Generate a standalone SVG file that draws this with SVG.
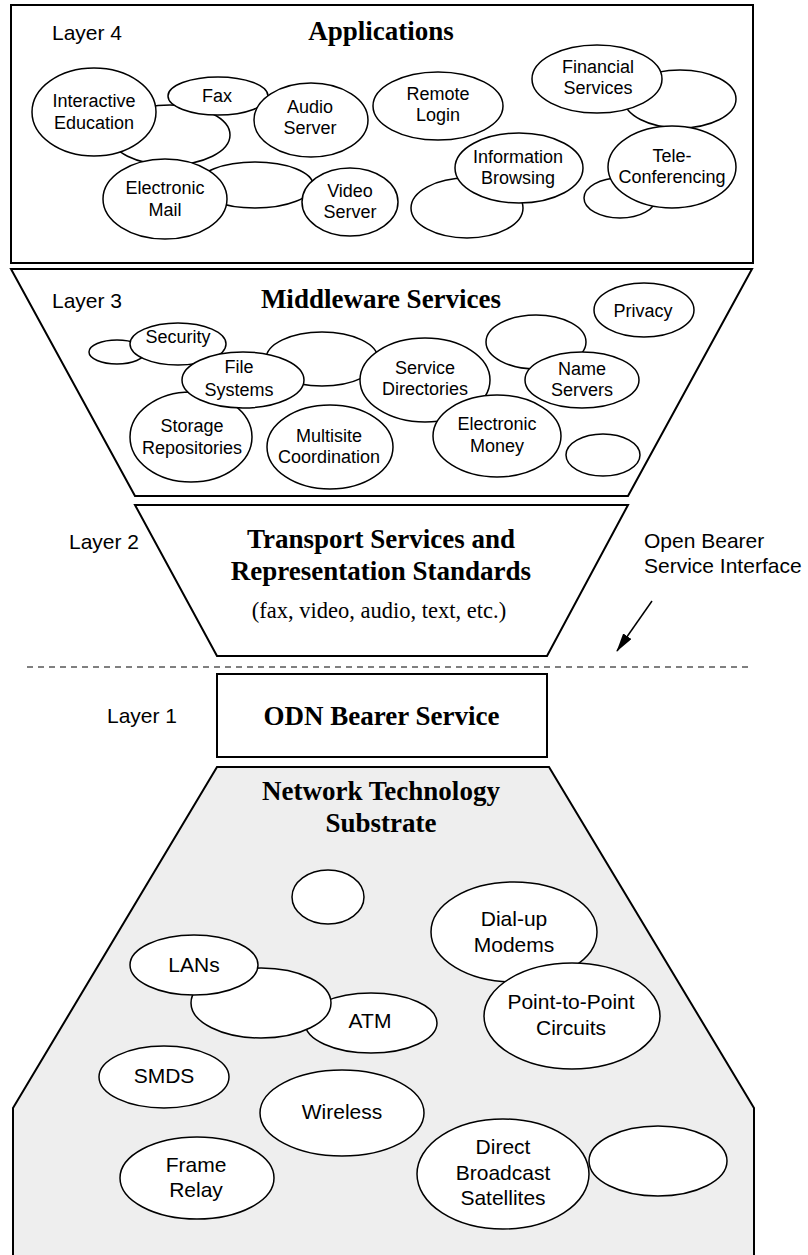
<svg xmlns="http://www.w3.org/2000/svg" width="808" height="1255" viewBox="0 0 808 1255">
<style>
.frame{fill:#fff;stroke:#000;stroke-width:2}
.sub{fill:#eeeeee;stroke:#000;stroke-width:2}
.e{fill:#fff;stroke:#000;stroke-width:1.5}
.lbl{font-family:"Liberation Sans",Arial,sans-serif;font-size:18px;text-anchor:middle;fill:#000}
.lbl0{font-family:"Liberation Sans",Arial,sans-serif;font-size:21px;text-anchor:middle;fill:#000}
.side{font-family:"Liberation Sans",Arial,sans-serif;font-size:21px;fill:#000}
.title{font-family:"Liberation Serif","Times New Roman",serif;font-size:27px;font-weight:bold;text-anchor:middle;fill:#000}
.note{font-family:"Liberation Serif","Times New Roman",serif;font-size:22.5px;text-anchor:middle;fill:#000}
</style>
<defs>
<marker id="ah" markerWidth="19" markerHeight="10" refX="18" refY="5" orient="auto" markerUnits="userSpaceOnUse">
<path d="M0,0 L19,5 L0,10 Z" fill="#000"/>
</marker>
</defs>

<g id="layer4">
<rect class="frame" x="11" y="5" width="742" height="258"/>
<text class="side" x="52" y="40">Layer 4</text>
<text class="title" x="381" y="40">Applications</text>
<g id="l4-blankA"><ellipse class="e" cx="170" cy="135" rx="60" ry="30"/></g>
<g id="l4-interactive"><ellipse class="e" cx="94" cy="112" rx="62" ry="44"/><text class="lbl" x="94" y="107">Interactive</text><text class="lbl" x="94" y="129">Education</text></g>
<g id="l4-fax"><ellipse class="e" cx="218" cy="96" rx="50" ry="19"/><text class="lbl" x="217" y="102">Fax</text></g>
<g id="l4-audio"><ellipse class="e" cx="311" cy="120" rx="57" ry="37"/><text class="lbl" x="310" y="113">Audio</text><text class="lbl" x="310" y="134">Server</text></g>
<g id="l4-blankB"><ellipse class="e" cx="255" cy="185" rx="58" ry="23"/></g>
<g id="l4-email"><ellipse class="e" cx="165" cy="199" rx="62" ry="40"/><text class="lbl" x="165" y="194">Electronic</text><text class="lbl" x="165" y="216">Mail</text></g>
<g id="l4-video"><ellipse class="e" cx="350" cy="202" rx="48" ry="34"/><text class="lbl" x="350" y="197">Video</text><text class="lbl" x="350" y="218">Server</text></g>
<g id="l4-remote"><ellipse class="e" cx="438" cy="106" rx="65" ry="34"/><text class="lbl" x="438" y="100">Remote</text><text class="lbl" x="438" y="121">Login</text></g>
<g id="l4-blankC"><ellipse class="e" cx="680" cy="99" rx="56" ry="29"/></g>
<g id="l4-financial"><ellipse class="e" cx="597" cy="79" rx="65" ry="34"/><text class="lbl" x="598" y="73">Financial</text><text class="lbl" x="598" y="94">Services</text></g>
<g id="l4-blankE"><ellipse class="e" cx="467" cy="208" rx="56" ry="30"/></g>
<g id="l4-info"><ellipse class="e" cx="519" cy="168" rx="64" ry="35"/><text class="lbl" x="518" y="163">Information</text><text class="lbl" x="518" y="184">Browsing</text></g>
<g id="l4-blankD"><ellipse class="e" cx="620" cy="198" rx="36" ry="20"/></g>
<g id="l4-tele"><ellipse class="e" cx="672" cy="167" rx="64" ry="41"/><text class="lbl" x="672" y="162">Tele-</text><text class="lbl" x="672" y="183">Conferencing</text></g>
</g>

<g id="layer3">
<path class="frame" d="M11,269 L752,269 L628,496 L135,496 Z"/>
<text class="side" x="52" y="308">Layer 3</text>
<text class="title" x="381" y="308">Middleware Services</text>
<g id="l3-blankA"><ellipse class="e" cx="117" cy="352" rx="28" ry="12"/></g>
<g id="l3-security"><ellipse class="e" cx="178" cy="344" rx="48" ry="21"/><text class="lbl" x="178" y="343">Security</text></g>
<g id="l3-storage"><ellipse class="e" cx="191" cy="437" rx="61" ry="45"/><text class="lbl" x="192" y="432">Storage</text><text class="lbl" x="192" y="454">Repositories</text></g>
<g id="l3-blankB"><ellipse class="e" cx="322" cy="359" rx="56" ry="27"/></g>
<g id="l3-files"><ellipse class="e" cx="243" cy="380" rx="61" ry="28"/><text class="lbl" x="239" y="373">File</text><text class="lbl" x="239" y="396">Systems</text></g>
<g id="l3-multisite"><ellipse class="e" cx="330" cy="447" rx="63" ry="42"/><text class="lbl" x="329" y="442">Multisite</text><text class="lbl" x="329" y="463">Coordination</text></g>
<g id="l3-directories"><ellipse class="e" cx="425" cy="380" rx="65" ry="42"/><text class="lbl" x="425" y="374">Service</text><text class="lbl" x="425" y="395">Directories</text></g>
<g id="l3-money"><ellipse class="e" cx="497" cy="436" rx="64" ry="41"/><text class="lbl" x="497" y="430">Electronic</text><text class="lbl" x="497" y="452">Money</text></g>
<g id="l3-blankC"><ellipse class="e" cx="536" cy="342" rx="50" ry="27"/></g>
<g id="l3-names"><ellipse class="e" cx="582" cy="380" rx="57" ry="28"/><text class="lbl" x="582" y="375">Name</text><text class="lbl" x="582" y="396">Servers</text></g>
<g id="l3-privacy"><ellipse class="e" cx="644" cy="310" rx="50" ry="27"/><text class="lbl" x="643" y="317">Privacy</text></g>
<g id="l3-blankD"><ellipse class="e" cx="603" cy="455" rx="37" ry="21"/></g>
</g>

<g id="layer2">
<path class="frame" d="M135,505 L628,505 L547,656 L217,656 Z"/>
<text class="side" x="69" y="549">Layer 2</text>
<text class="title" x="381" y="548">Transport Services and</text>
<text class="title" x="381" y="580">Representation Standards</text>
<text class="note" x="379" y="618">(fax, video, audio, text, etc.)</text>
</g>

<g id="interface">
<line x1="27" y1="667" x2="752" y2="667" stroke="#000" stroke-width="1" stroke-dasharray="6 5"/>
<text class="side" x="644" y="548">Open Bearer</text>
<text class="side" x="644" y="573">Service Interface</text>
</g>

<g id="connectors">
<line x1="652" y1="601" x2="617" y2="651" stroke="#000" stroke-width="1.5" marker-end="url(#ah)"/>
</g>

<g id="layer1">
<rect class="frame" x="217" y="674" width="330" height="83"/>
<text class="side" x="107" y="723">Layer 1</text>
<text class="title" x="381.5" y="725">ODN Bearer Service</text>
</g>

<g id="layer0">
<path class="sub" d="M217,767 L549,767 L754,1108 L754,1262 L13,1262 L13,1108 Z"/>
<text class="title" x="381" y="800">Network Technology</text>
<text class="title" x="381" y="832">Substrate</text>
<g id="l0-blankA"><ellipse class="e" cx="328" cy="897" rx="36" ry="27"/></g>
<g id="l0-atm"><ellipse class="e" cx="371" cy="1023" rx="66" ry="30"/><text class="lbl0" x="370" y="1028">ATM</text></g>
<g id="l0-blankB"><ellipse class="e" cx="261" cy="1003" rx="70" ry="35"/></g>
<g id="l0-lans"><ellipse class="e" cx="194" cy="965" rx="64" ry="30"/><text class="lbl0" x="194" y="972">LANs</text></g>
<g id="l0-dialup"><ellipse class="e" cx="514" cy="932" rx="83" ry="50"/><text class="lbl0" x="514" y="926">Dial-up</text><text class="lbl0" x="514" y="952">Modems</text></g>
<g id="l0-p2p"><ellipse class="e" cx="572" cy="1016" rx="88" ry="53"/><text class="lbl0" x="571" y="1009">Point-to-Point</text><text class="lbl0" x="571" y="1035">Circuits</text></g>
<g id="l0-smds"><ellipse class="e" cx="164" cy="1077" rx="65" ry="31"/><text class="lbl0" x="164" y="1083">SMDS</text></g>
<g id="l0-wireless"><ellipse class="e" cx="342" cy="1113" rx="82" ry="43"/><text class="lbl0" x="342" y="1119">Wireless</text></g>
<g id="l0-frame"><ellipse class="e" cx="197" cy="1178" rx="77" ry="41"/><text class="lbl0" x="196" y="1172">Frame</text><text class="lbl0" x="196" y="1197">Relay</text></g>
<g id="l0-blankC"><ellipse class="e" cx="658" cy="1161" rx="69" ry="35"/></g>
<g id="l0-dbs"><ellipse class="e" cx="503" cy="1174" rx="86" ry="55"/><text class="lbl0" x="503" y="1154">Direct</text><text class="lbl0" x="503" y="1180">Broadcast</text><text class="lbl0" x="503" y="1205">Satellites</text></g>
</g>
</svg>
